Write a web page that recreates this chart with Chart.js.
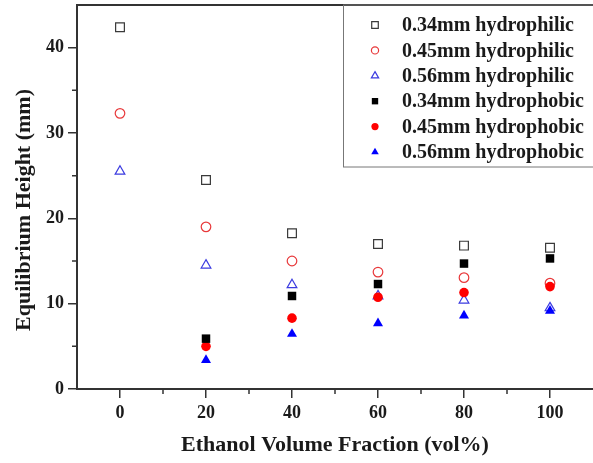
<!DOCTYPE html>
<html>
<head>
<meta charset="utf-8">
<script src="https://cdn.jsdelivr.net/npm/chart.js@4/dist/chart.umd.min.js"></script>
<style>
  html, body { margin: 0; padding: 0; background: #fff; }
  #wrap { width: 593px; height: 463px; }
</style>
</head>
<body>
<div id="wrap"><canvas id="height-chart" width="593" height="463"></canvas></div>
<script>
// ethanol volume fraction (vol%) for every measurement
let ethanolFractions = [0, 20, 40, 60, 80, 100];

// equilibrium heights (mm), hydrophilic tubes
let hydrophilic034 = [42.4, 24.5, 18.25, 17.0, 16.8, 16.55];
let hydrophilic045 = [32.3, 19.0, 15.0, 13.7, 13.05, 12.4];
let hydrophilic056 = [25.5, 14.5, 12.2, 10.9, 10.4, 9.5];

// equilibrium heights (mm), hydrophobic tubes (no reading at 0 vol%)
let hydrophobic034 = [null, 5.9, 10.9, 12.3, 14.7, 15.3];
let hydrophobic045 = [null, 5.0, 8.3, 10.75, 11.3, 12.0];
let hydrophobic056 = [null, 3.4, 6.45, 7.7, 8.6, 9.15];

// axis ticks
let xTicks = [0, 20, 40, 60, 80, 100];
let yTicks = [0, 10, 20, 30, 40];
let xMinorTicks = [10, 30, 50, 70, 90];
let yMinorTicks = [5, 15, 25, 35];

let serif = "'Liberation Serif', 'Times New Roman', serif";
let axisColor = "#333";

// turn one value list into scatter points
function toPoints(values) {
  let points = [];
  for (let i = 0; i < ethanolFractions.length; i++) {
    if (values[i] !== null) {
      points.push({ x: ethanolFractions[i], y: values[i] });
    }
  }
  return points;
}

function makeDataset(label, values, style, color, filled, radius) {
  return {
    label: label,
    data: toPoints(values),
    pointStyle: style,
    pointRadius: radius,
    pointHoverRadius: radius,
    borderColor: color,
    backgroundColor: filled ? color : "rgba(0,0,0,0)",
    pointBorderWidth: filled ? 0 : 1.2,
    // filled markers sit on top of the open ones
    order: filled ? 0 : 1,
  };
}

let datasets = [
  makeDataset("0.34mm hydrophilic", hydrophilic034, "rect", "#3a3a3a", false, 6.2),
  makeDataset("0.45mm hydrophilic", hydrophilic045, "circle", "#e8383a", false, 4.8),
  makeDataset("0.56mm hydrophilic", hydrophilic056, "triangle", "#3b3be0", false, 5.6),
  makeDataset("0.34mm hydrophobic", hydrophobic034, "rect", "#000000", true, 6.0),
  makeDataset("0.45mm hydrophobic", hydrophobic045, "circle", "#ff0000", true, 4.8),
  makeDataset("0.56mm hydrophobic", hydrophobic056, "triangle", "#0000ff", true, 5.8),
];

// frame, minor ticks, axis titles and the boxed legend
let decorations = {
  id: "decorations",
  afterDraw(chart) {
    let ctx = chart.ctx;
    let area = chart.chartArea;
    let xs = chart.scales.x;
    let ys = chart.scales.y;

    ctx.save();
    ctx.strokeStyle = axisColor;
    ctx.lineWidth = 2;
    ctx.beginPath();
    ctx.moveTo(area.left, area.top);
    ctx.lineTo(area.right, area.top);
    ctx.stroke();

    ctx.lineWidth = 1.5;
    ctx.beginPath();
    xMinorTicks.forEach(function (v) {
      let px = xs.getPixelForValue(v);
      ctx.moveTo(px, area.bottom);
      ctx.lineTo(px, area.bottom + 5);
    });
    yMinorTicks.forEach(function (v) {
      let py = ys.getPixelForValue(v);
      ctx.moveTo(area.left, py);
      ctx.lineTo(area.left - 5, py);
    });
    ctx.stroke();

    // axis titles
    ctx.fillStyle = "#1a1a1a";
    ctx.font = "bold 22px " + serif;
    ctx.textAlign = "center";
    ctx.textBaseline = "middle";
    ctx.fillText("Ethanol Volume Fraction (vol%)", (area.left + area.right) / 2, 445);
    ctx.save();
    ctx.translate(24, 210);
    ctx.rotate(-Math.PI / 2);
    ctx.fillText("Equilibrium Height (mm)", 0, 0);
    ctx.restore();

    // legend box
    ctx.strokeStyle = "#777";
    ctx.lineWidth = 1;
    ctx.strokeRect(343.5, area.top, 260, 162);
    ctx.font = "bold 20px " + serif;
    ctx.textAlign = "left";
    chart.data.datasets.forEach(function (ds, i) {
      let y = 25 + i * 25.4;
      ctx.fillStyle = ds.backgroundColor;
      ctx.strokeStyle = ds.borderColor;
      ctx.lineWidth = ds.pointBorderWidth;
      Chart.helpers.drawPoint(ctx, {
        pointStyle: ds.pointStyle,
        radius: ds.pointRadius * 0.75,
        rotation: 0,
        borderWidth: ds.pointBorderWidth,
      }, 375, y);
      ctx.fillStyle = "#1a1a1a";
      ctx.fillText(ds.label, 402, y + 1);
    });
    ctx.restore();
  },
};

let chartCanvas = document.querySelector("#height-chart");
let context = chartCanvas.getContext("2d");

let heightChart = new Chart(context, {
  type: "scatter",
  data: { datasets: datasets },
  options: {
    responsive: false,
    animation: false,
    layout: { autoPadding: false, padding: { top: 5, left: 0, right: 0, bottom: 0 } },
    plugins: {
      legend: { display: false },
      tooltip: { enabled: false },
    },
    scales: {
      x: {
        type: "linear",
        min: -10,
        max: 110,
        afterFit(scale) {
          scale.height = 74;
          scale.paddingLeft = 0;
          scale.paddingRight = 0;
        },
        afterBuildTicks(scale) {
          scale.ticks = xTicks.map(function (v) { return { value: v }; });
        },
        border: { color: axisColor, width: 2 },
        grid: { drawOnChartArea: false, color: axisColor, lineWidth: 1.5, tickLength: 9 },
        ticks: {
          color: "#1a1a1a",
          padding: 5,
          maxRotation: 0,
          font: { family: serif, size: 18, weight: "bold" },
        },
      },
      y: {
        type: "linear",
        min: 0,
        max: 45,
        afterFit(scale) {
          scale.width = 77;
          scale.paddingTop = 0;
          scale.paddingBottom = 0;
        },
        afterBuildTicks(scale) {
          scale.ticks = yTicks.map(function (v) { return { value: v }; });
        },
        border: { color: axisColor, width: 2 },
        grid: { drawOnChartArea: false, color: axisColor, lineWidth: 1.5, tickLength: 9 },
        ticks: {
          color: "#1a1a1a",
          padding: 4,
          font: { family: serif, size: 18, weight: "bold" },
        },
      },
    },
  },
  plugins: [decorations],
});
</script>
</body>
</html>
